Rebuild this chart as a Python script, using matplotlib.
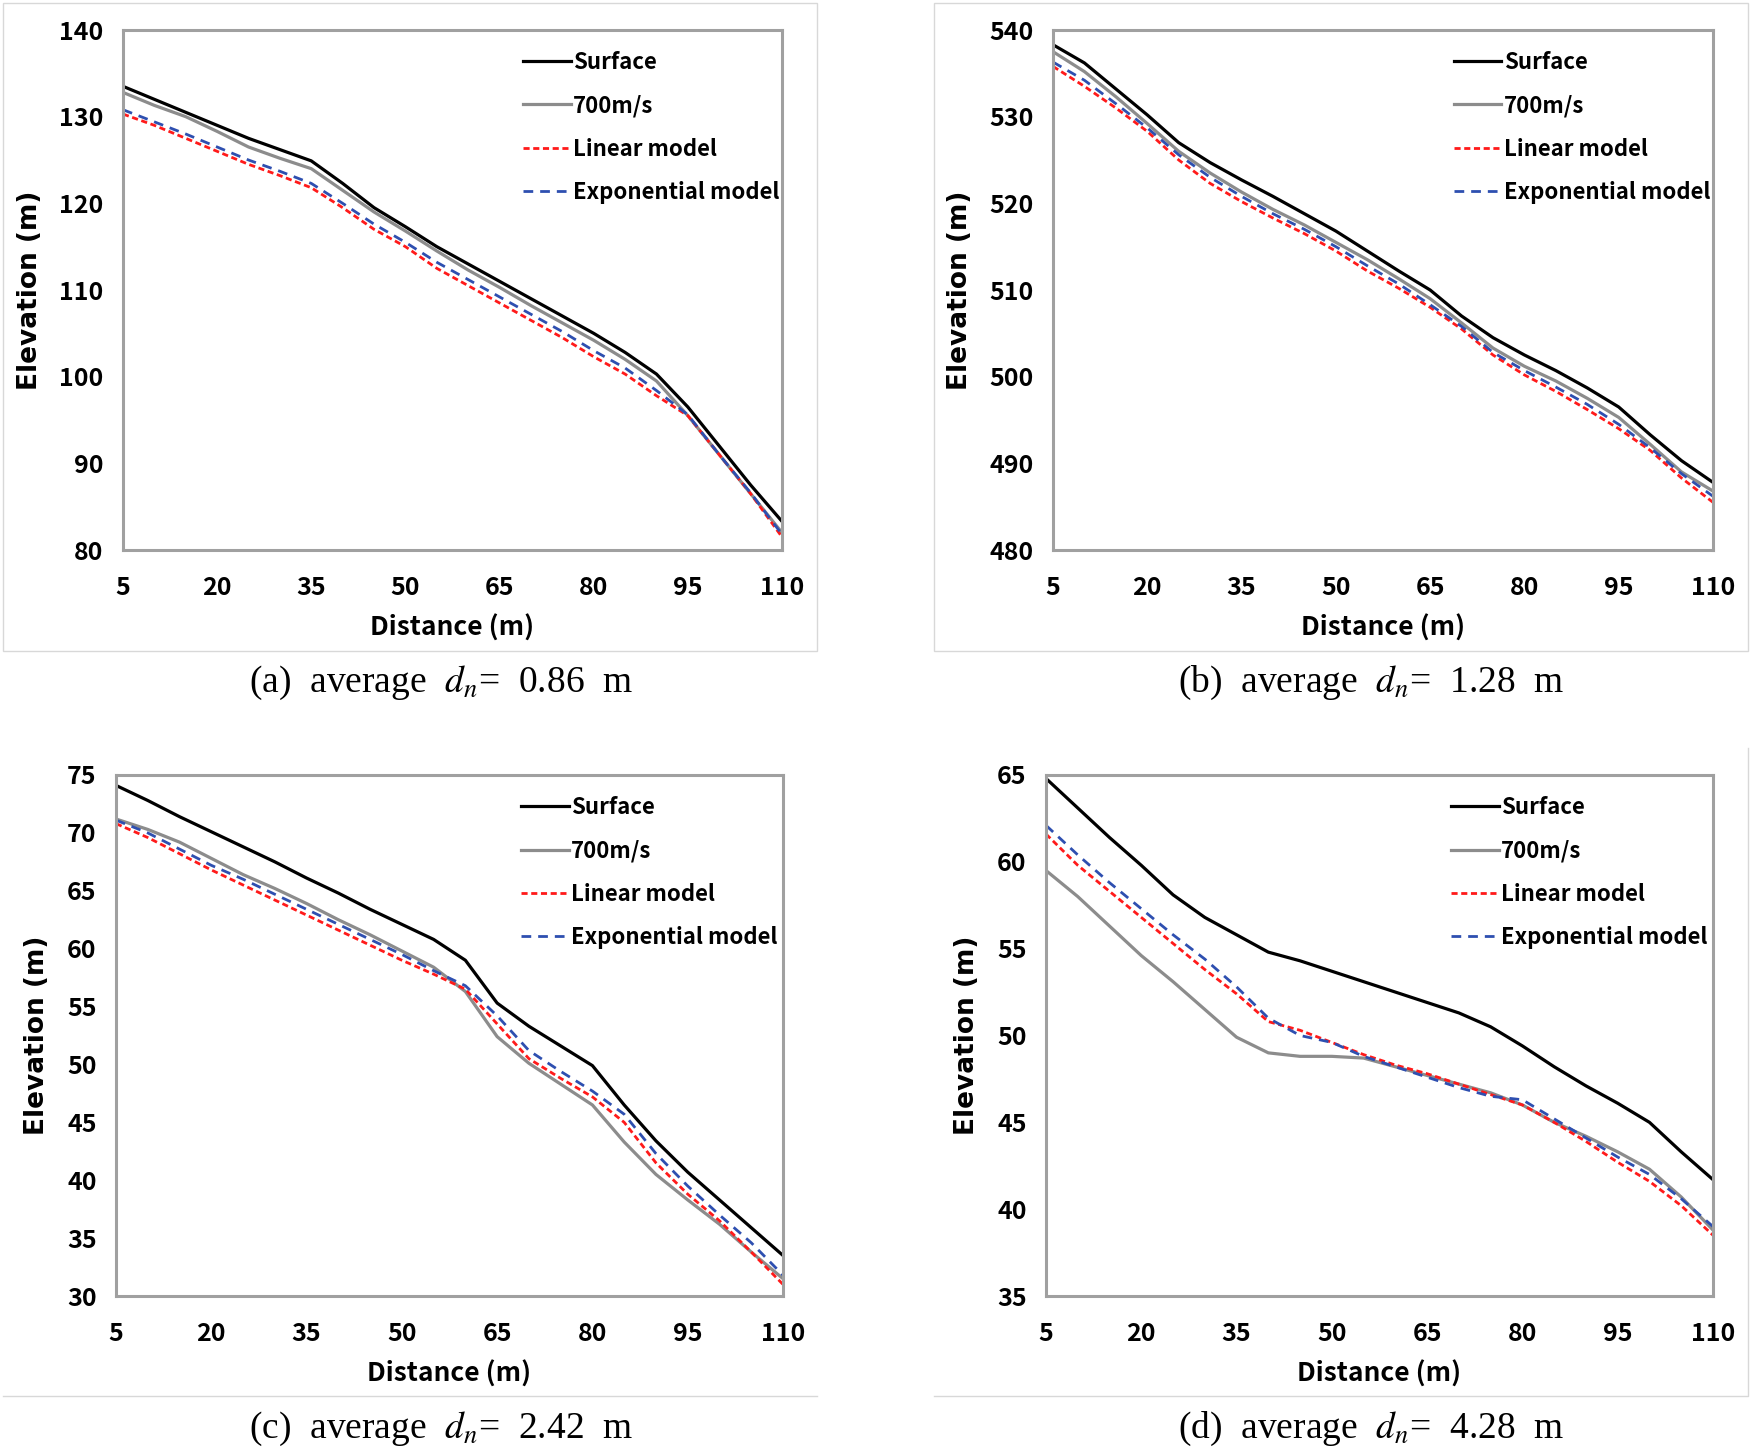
import numpy as np
import matplotlib
matplotlib.use("Agg")
import matplotlib.pyplot as plt
from matplotlib.lines import Line2D
from matplotlib.patches import Rectangle

plt.rcParams['font.family'] = ['Noto Sans CJK KR', 'DejaVu Sans']
plt.rcParams['mathtext.fontset'] = 'stix'

# ---------------------------------------------
#  data (distance every 5 m)
# ---------------------------------------------
distance = [5, 10, 15, 20, 25, 30, 35, 40, 45, 50, 55,
            60, 65, 70, 75, 80, 85, 90, 95, 100, 105, 110]

surface_a = [133.5, 132.0, 130.5, 129.0, 127.5, 126.2, 124.9, 122.3, 119.5, 117.3, 115.0,
             113.0, 111.0, 109.0, 107.0, 105.0, 102.8, 100.3, 96.5, 92.0, 87.5, 83.3]
v700_a = [132.8, 131.3, 130.0, 128.3, 126.5, 125.2, 124.0, 121.5, 119.0, 116.8, 114.5,
          112.3, 110.3, 108.2, 106.2, 104.2, 102.0, 99.5, 95.5, 91.0, 86.5, 82.0]
linear_a = [130.3, 129.0, 127.5, 126.0, 124.5, 123.2, 121.8, 119.5, 117.0, 115.0, 112.5,
            110.5, 108.5, 106.5, 104.5, 102.3, 100.3, 97.8, 95.5, 91.0, 86.5, 81.5]
expo_a = [130.8, 129.4, 128.0, 126.5, 125.0, 123.7, 122.3, 120.0, 117.6, 115.5, 113.2,
          111.2, 109.2, 107.2, 105.2, 103.0, 101.0, 98.4, 95.6, 91.0, 86.6, 81.8]

surface_b = [538.3, 536.2, 533.2, 530.2, 527.0, 524.7, 522.7, 520.8, 518.8, 516.8, 514.5,
             512.2, 510.0, 507.0, 504.5, 502.5, 500.7, 498.7, 496.5, 493.3, 490.3, 487.8]
v700_b = [537.5, 535.2, 532.3, 529.2, 526.0, 523.5, 521.3, 519.3, 517.5, 515.5, 513.5,
          511.3, 509.0, 506.2, 503.3, 501.2, 499.5, 497.5, 495.3, 492.2, 489.0, 486.8]
linear_b = [535.8, 533.5, 531.0, 528.3, 525.0, 522.3, 520.2, 518.3, 516.5, 514.5, 512.2,
            510.2, 508.0, 505.5, 502.5, 500.2, 498.3, 496.2, 494.0, 491.5, 488.3, 485.5]
expo_b = [536.3, 534.2, 531.5, 528.7, 525.6, 523.0, 520.8, 518.8, 517.0, 515.0, 512.8,
          510.7, 508.3, 505.8, 502.8, 500.7, 498.8, 496.8, 494.5, 491.8, 488.8, 486.2]

surface_c = [74.1, 72.8, 71.4, 70.1, 68.8, 67.5, 66.1, 64.8, 63.4, 62.1, 60.8,
             59.0, 55.3, 53.3, 51.6, 49.9, 46.5, 43.4, 40.7, 38.3, 35.9, 33.5]
v700_c = [71.2, 70.3, 69.2, 67.8, 66.4, 65.2, 63.9, 62.5, 61.2, 59.8, 58.4,
          56.3, 52.4, 50.1, 48.3, 46.5, 43.3, 40.5, 38.3, 36.2, 33.8, 31.5]
linear_c = [70.8, 69.6, 68.2, 66.8, 65.5, 64.2, 62.9, 61.6, 60.3, 59.0, 57.8,
            56.5, 53.5, 50.5, 48.8, 47.2, 45.0, 41.5, 38.8, 36.5, 33.8, 31.0]
expo_c = [71.1, 70.0, 68.6, 67.2, 66.0, 64.7, 63.4, 62.1, 60.8, 59.5, 58.1,
          56.8, 54.2, 51.2, 49.4, 47.7, 45.7, 42.3, 39.5, 37.0, 34.6, 31.8]

surface_d = [64.8, 63.1, 61.4, 59.8, 58.1, 56.8, 55.8, 54.8, 54.3, 53.7, 53.1,
             52.5, 51.9, 51.3, 50.5, 49.4, 48.2, 47.1, 46.1, 45.0, 43.3, 41.7]
v700_d = [59.5, 58.0, 56.3, 54.6, 53.1, 51.5, 49.9, 49.0, 48.8, 48.8, 48.7,
          48.2, 47.7, 47.2, 46.7, 46.0, 45.0, 44.2, 43.3, 42.3, 40.7, 38.8]
linear_d = [61.6, 59.8, 58.3, 56.8, 55.3, 53.8, 52.4, 50.8, 50.3, 49.6, 48.9,
            48.3, 47.8, 47.2, 46.6, 46.0, 45.0, 43.9, 42.7, 41.6, 40.2, 38.5]
expo_d = [62.1, 60.4, 58.8, 57.3, 55.8, 54.4, 52.8, 51.0, 50.0, 49.6, 48.8,
          48.2, 47.6, 47.0, 46.5, 46.3, 45.2, 44.1, 43.0, 42.0, 40.6, 39.0]

x_ticks = [5, 20, 35, 50, 65, 80, 95, 110]
captions = ["(a)", "(b)", "(c)", "(d)"]
avg_dn = ["0.86", "1.28", "2.42", "4.28"]
y_ranges = [(80, 140, 10), (480, 540, 10), (30, 75, 5), (35, 65, 5)]
series_names = ["Surface", "700m/s", "Linear model", "Exponential model"]

panels = [(surface_a, v700_a, linear_a, expo_a),
          (surface_b, v700_b, linear_b, expo_b),
          (surface_c, v700_c, linear_c, expo_c),
          (surface_d, v700_d, linear_d, expo_d)]

# axes boxes in pixels (left, top, right, bottom) of the 1751x1454 canvas
W, H = 1751, 1454
boxes = [(123, 30, 782, 550), (1053, 30, 1713, 550),
         (116, 775, 783, 1296), (1046, 775, 1713, 1296)]
caption_pos = [(441, 683), (1371, 683), (441, 1429), (1371, 1429)]

fig = plt.figure(figsize=(W / 100, H / 100), dpi=100)

# light frame lines around the sub-figures
frame_col = '#d8d8d8'
fig.add_artist(Rectangle((3 / W, 1 - 651 / H), 814 / W, 648 / H, transform=fig.transFigure,
                         fill=False, ec=frame_col, lw=1))
fig.add_artist(Rectangle((934 / W, 1 - 651 / H), 814 / W, 648 / H, transform=fig.transFigure,
                         fill=False, ec=frame_col, lw=1))
fig.add_artist(Line2D([3 / W, 817 / W], [1 - 1396 / H] * 2, transform=fig.transFigure,
                      color=frame_col, lw=1))
fig.add_artist(Line2D([934 / W, 1748 / W, 1748 / W], [1 - 1396 / H, 1 - 1396 / H, 1 - 748 / H],
                      transform=fig.transFigure, color=frame_col, lw=1))

for k, (surf, v700, lin, expo) in enumerate(panels):
    l, t, r, b = boxes[k]
    ax = fig.add_axes([l / W, 1 - b / H, (r - l) / W, (b - t) / H])
    ax.plot(distance, surf, color='black', lw=2.3, label=series_names[0])
    ax.plot(distance, v700, color='#8c8c8c', lw=2.3, label=series_names[1])
    ax.plot(distance, lin, color='#ff1a1a', lw=2.0, dashes=(2.2, 1.3), label=series_names[2])
    ax.plot(distance, expo, color='#2e4fb0', lw=2.0, dashes=(3.5, 2.5), label=series_names[3])

    lo, hi, step = y_ranges[k]
    ax.set_xlim(5, 110)
    ax.set_ylim(lo, hi)
    ax.set_xticks(x_ticks)
    ax.set_yticks(np.arange(lo, hi + step, step))
    ax.tick_params(axis='y', length=0, labelsize=18, pad=14)
    ax.tick_params(axis='x', length=0, labelsize=18, pad=19)
    for lab in ax.get_xticklabels() + ax.get_yticklabels():
        lab.set_fontweight('bold')
    for sp in ax.spines.values():
        sp.set_color('#a0a0a0')
        sp.set_linewidth(2.2)
    ax.set_xlabel("Distance (m)", fontsize=19, fontweight='bold', labelpad=10)
    ax.set_ylabel("Elevation (m)", fontsize=19, fontweight='bold', labelpad=12,
                  family=['DejaVu Sans'])

    ax.legend(loc='upper left', bbox_to_anchor=(0.607, 0.96), frameon=False,
              borderaxespad=0, borderpad=0,
              handlelength=2.15, handletextpad=0.1, labelspacing=0.92,
              prop={'weight': 'bold', 'size': 16})

    cx, cy = caption_pos[k]
    fig.text(cx / W, 1 - cy / H,
             captions[k] + "  average  $d_n$=  " + avg_dn[k] + "  m",
             ha='center', va='center', fontsize=27, family=['Liberation Serif', 'DejaVu Serif'])

fig.savefig("out.png", dpi=100)
